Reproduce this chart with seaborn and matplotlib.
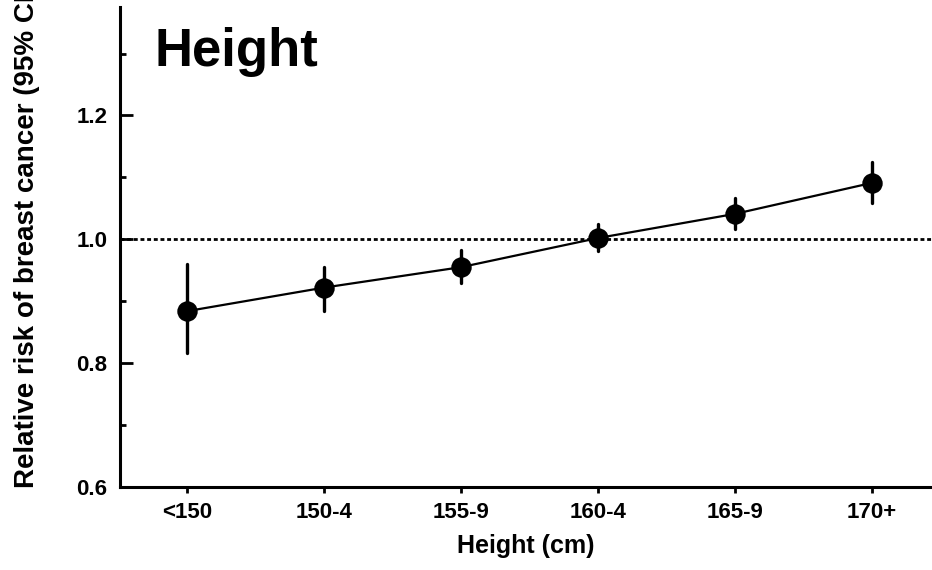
import pandas as pd
import seaborn as sns
import matplotlib.pyplot as plt
from matplotlib.ticker import MultipleLocator

# data
groups = ['<150', '150-4', '155-9', '160-4', '165-9', '170+']
rr = [0.884, 0.922, 0.955, 1.002, 1.041, 1.091]
ci_low = [0.816, 0.885, 0.929, 0.981, 1.016, 1.059]
ci_high = [0.960, 0.956, 0.982, 1.024, 1.067, 1.125]

sns.set_style('ticks', {'axes.edgecolor': 'black', 'text.color': 'black',
                        'axes.labelcolor': 'black', 'xtick.color': 'black',
                        'ytick.color': 'black'})
plt.rcParams['font.family'] = ['Liberation Sans', 'DejaVu Sans']

# long table: median gives the estimate, 100% interval gives the CI ends
df = pd.DataFrame({
    'group': groups * 3,
    'value': ci_low + rr + ci_high,
})

fig = plt.figure(figsize=(9.32, 5.70), dpi=100)
ax = fig.add_axes([0.1288, 0.1456, 0.8712, 0.842])

sns.pointplot(
    data=df, x='group', y='value', order=groups,
    estimator='median', errorbar=('pi', 100),
    color='black', markersize=13.5, linewidth=1.6,
    err_kws={'linewidth': 2.4}, capsize=0, ax=ax,
)

# reference line at RR = 1
ax.axhline(1.0, color='black', lw=2, linestyle=(0, (1.4, 1.0)), zorder=1)

ax.set_xlim(-0.49, 5.44)
ax.set_ylim(0.6, 1.375)
ax.yaxis.set_major_locator(MultipleLocator(0.2))
ax.yaxis.set_minor_locator(MultipleLocator(0.1))
ax.set_yticks([0.6, 0.8, 1.0, 1.2])
ax.set_yticklabels(['0.6', '0.8', '1.0', '1.2'])

sns.despine(ax=ax)
for s in ['left', 'bottom']:
    ax.spines[s].set_linewidth(2.2)
    ax.spines[s].set_color('black')

ax.tick_params(axis='y', which='major', direction='in', length=9, width=2,
               pad=9, labelsize=16, colors='black')
ax.tick_params(axis='y', which='minor', direction='in', length=4.5, width=2,
               colors='black')
ax.tick_params(axis='x', direction='out', length=4, width=2, pad=7,
               labelsize=16, colors='black')
for lab in ax.get_xticklabels() + ax.get_yticklabels():
    lab.set_fontweight('bold')

ax.set_xlabel('Height (cm)', fontsize=18, fontweight='bold', labelpad=8,
              color='black')
# the label runs past the top edge in the original too
ax.set_ylabel('Relative risk of breast cancer (95% CI)', fontsize=20,
              fontweight='bold', ha='left', color='black')
ax.yaxis.set_label_coords(-0.098, -0.003)

ax.text(0.043, 0.958, 'Height', transform=ax.transAxes, fontsize=38,
        fontweight='bold', ha='left', va='top', color='black')

fig.savefig('out.png', dpi=100)
